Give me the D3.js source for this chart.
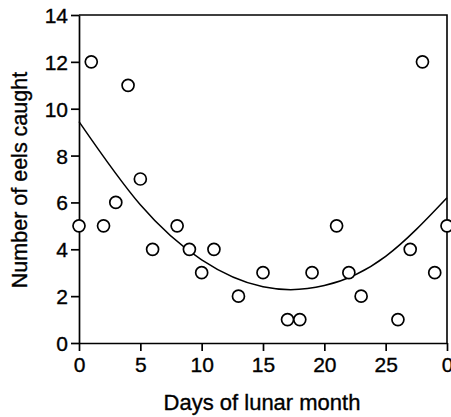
<!DOCTYPE html>
<html>
<head>
<meta charset="utf-8">
<script src="https://cdn.jsdelivr.net/npm/d3@7"></script>
<style>
    html, body { margin: 0; padding: 0; background: #fff; overflow: hidden; }
    text { font-family: "Liberation Sans", Arial, sans-serif; fill: #000; stroke: #000; stroke-width: 0.35px; }
</style>
</head>
<body>
<div id="chart"></div>
<script>
// observed catches per day of the lunar month
const days = [0, 1, 2, 3, 4, 5, 6, 8, 9, 10, 11, 13, 15, 17, 18, 19, 21, 22, 23, 26, 27, 28, 29, 30];
const eels = [5, 12, 5, 6, 11, 7, 4, 5, 4, 3, 4, 2, 3, 1, 1, 3, 5, 3, 2, 1, 4, 12, 3, 5];

// fitted curve
const fitDays = [0, 5, 10, 15, 20, 25, 30];
const fitEels = [9.45, 5.9, 3.55, 2.4, 2.45, 3.7, 6.2];

const xTicks = [0, 5, 10, 15, 20, 25, 30];
const xTickLabels = ['0', '5', '10', '15', '20', '25', '0'];
const yTicks = [0, 2, 4, 6, 8, 10, 12, 14];

const W = 451, H = 417;
const margins = { left: 79, top: 15, right: 4, bottom: 74 };
const width = W - margins.left - margins.right,
    height = H - margins.top - margins.bottom;

const svg = d3.select('#chart').append('svg')
    .attr('width', W)
    .attr('height', H);

const wrap = svg.append('g')
    .attr('transform', 'translate(' + margins.left + ', ' + margins.top + ')');

const x = d3.scaleLinear().domain([0, 30]).range([0, width]);
const y = d3.scaleLinear().domain([0, 14]).range([height, 0]);

// axes
const axisX = d3.axisBottom(x)
    .tickValues(xTicks)
    .tickFormat((d, i) => xTickLabels[i])
    .tickSizeInner(8)
    .tickSizeOuter(0)
    .tickPadding(6);

const axisY = d3.axisLeft(y)
    .tickValues(yTicks)
    .tickSizeInner(8)
    .tickSizeOuter(0)
    .tickPadding(3);

const gx = wrap.append('g')
    .attr('transform', 'translate(0, ' + height + ')')
    .call(axisX);

const gy = wrap.append('g')
    .call(axisY);

[gx, gy].forEach(g => {
    g.selectAll('path, line').attr('stroke', '#000').attr('stroke-width', 1.7);
    g.selectAll('text').style('font-size', '21px').attr('fill', '#000');
});
gy.selectAll('text').attr('dy', '0.36em');

// top and right frame
wrap.append('path')
    .attr('d', 'M0,0H' + width + 'V' + height)
    .attr('fill', 'none')
    .attr('stroke', '#000')
    .attr('stroke-width', 1.6);

// fitted curve
const line = d3.line()
    .x((d, i) => x(fitDays[i]))
    .y(d => y(d))
    .curve(d3.curveNatural);

wrap.append('path')
    .datum(fitEels)
    .attr('d', line)
    .attr('fill', 'none')
    .attr('stroke', '#000')
    .attr('stroke-width', 1.5);

// points
wrap.selectAll('circle')
    .data(eels)
    .enter().append('circle')
    .attr('cx', (d, i) => x(days[i]))
    .attr('cy', d => y(d))
    .attr('r', 6)
    .attr('fill', '#fff')
    .attr('stroke', '#000')
    .attr('stroke-width', 1.7);

// axis titles
svg.append('text')
    .attr('x', 262)
    .attr('y', 410)
    .attr('text-anchor', 'middle')
    .style('font-size', '22px')
    .text('Days of lunar month');

svg.append('text')
    .attr('transform', 'translate(27, 180) rotate(-90)')
    .attr('text-anchor', 'middle')
    .style('font-size', '21.5px')
    .text('Number of eels caught');
</script>
</body>
</html>
